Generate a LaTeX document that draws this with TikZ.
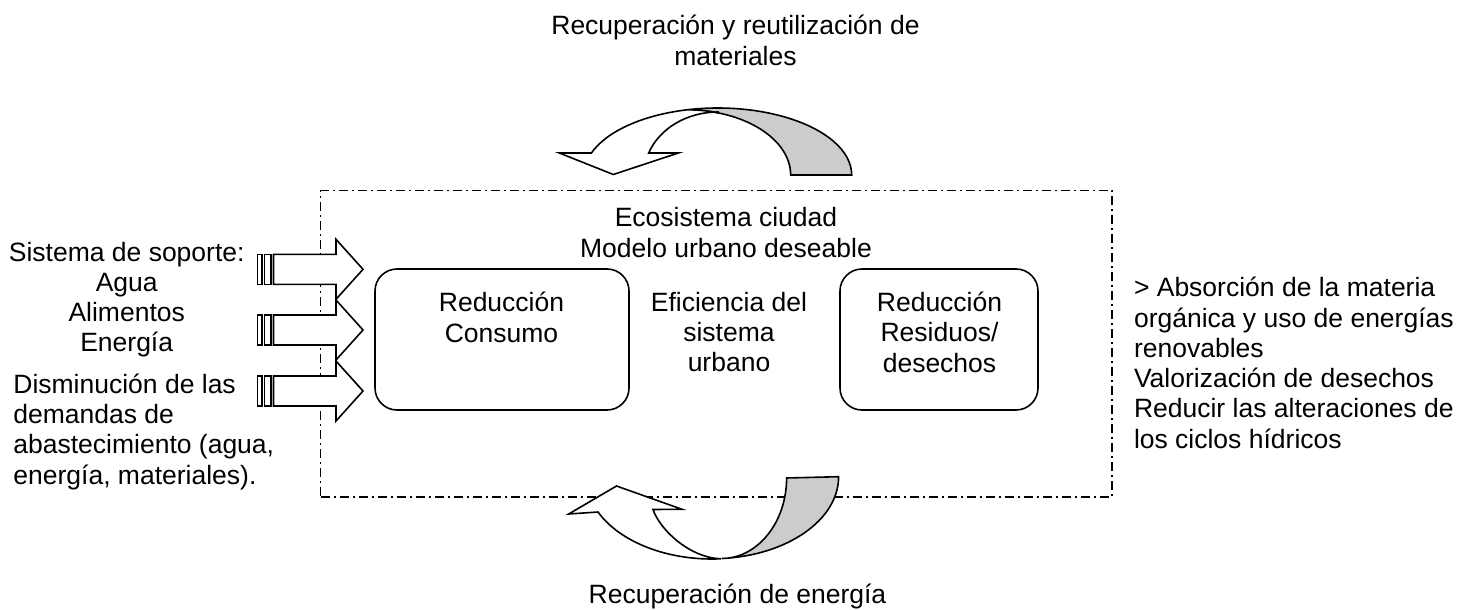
\documentclass[tikz,border=0pt]{standalone}
\usepackage{fontspec}
\setmainfont{Liberation Sans}
\newcommand{\mlines}[2]{\begin{tabular}[t]{@{}#1@{}}#2\end{tabular}}
\definecolor{shade}{RGB}{204,204,204}
\begin{document}
\begin{tikzpicture}[x=1pt,y=-1pt,
  txt/.style={inner sep=0pt, outer sep=0pt, font=\fontsize{26.5}{30.3}\selectfont, anchor=base},
  txtl/.style={txt, anchor=base west},
  bline/.style={line width=1.6pt, draw=black, line join=miter},
  rbox/.style={draw, line width=1.6pt, rounded corners=22pt, inner sep=0pt},
  dashdot/.style={draw, line width=1.5pt, dash pattern=on 9pt off 4pt on 2pt off 4pt, inner sep=0pt}]
\useasboundingbox (0,0) rectangle (1469,610);
\fill[white] (0,0) rectangle (1469,610);

% dash-dot frame
\node[dashdot, minimum width=791.3pt, minimum height=306.3pt] (eco) at (716.35,343.85) {};

% rounded boxes
\node[rbox, minimum width=254pt, minimum height=141pt] (consumo) at (502,339.5) {};
\node[rbox, minimum width=198pt, minimum height=141pt] (residuos) at (939,339.5) {};

% texts
\node[txt] (toplabel) at (735.5,35) {\mlines{c}{Recuperación y reutilización de\\materiales}};
\node[txt] (ecotxt) at (726,226.7) {\mlines{c}{Ecosistema ciudad\\Modelo urbano deseable}};
\node[txt] (consumotxt) at (501.5,311.7) {\mlines{c}{Reducción\\Consumo}};
\node[txt] (efitxt) at (729,311) {\mlines{c}{Eficiencia del\\sistema\\urbano}};
\node[txt] (residuostxt) at (939.5,311.5) {\mlines{c}{Reducción\\Residuos/\\desechos}};
\node[txt] (soporte) at (126.7,261) {\mlines{c}{Sistema de soporte:\\Agua\\Alimentos\\Energía}};
\node[txtl] (demandas) at (13.4,393.3) {\mlines{l}{Disminución de las\\demandas de\\abastecimiento (agua,\\energía, materiales).}};
\node[txtl] (absorcion) at (1134,296.7) {\mlines{l}{> Absorción de la materia\\orgánica y uso de energías\\renovables\\Valorización de desechos\\Reducir las alteraciones de\\los ciclos hídricos}};
\node[txt] (bottomlabel) at (737.5,603) {Recuperación de energía};

% striped input arrows
\foreach \cy in {269.3,330,391}{
  \draw[bline, fill=white] (273.5,\cy-15) -- (336,\cy-15) -- (336,\cy-30) -- (363,\cy)
     -- (336,\cy+30) -- (336,\cy+15) -- (273.5,\cy+15) -- cycle;
  \draw[line width=1.3pt, fill=white] (257.3,\cy-15) rectangle (262,\cy+15);
  \draw[line width=1.3pt, fill=white] (264.5,\cy-15) rectangle (271,\cy+15);
}

% top curved arrow (materials)
\draw[bline, fill=shade] (851.7,175) arc[start angle=0, end angle=103.4, x radius=134pt, y radius=67pt]
   arc[start angle=90, end angle=0, x radius=104pt, y radius=65.2pt] -- cycle;
\draw[bline, fill=white] (591.45,152.96) arc[start angle=160.8, end angle=103.4, x radius=134pt, y radius=67pt]
   arc[start angle=90, end angle=72.7, x radius=104pt, y radius=65.2pt] -- (718,112)
   arc[start angle=90, end angle=159.6, x radius=74pt, y radius=63pt]
   -- (678.3,153) -- (613.3,174.5) -- (559.3,153) -- cycle;

% bottom curved arrow (energy)
\draw[bline, fill=shade] (838.6,476.7) arc[start angle=0, end angle=-85.9, x radius=126pt, y radius=82pt]
   arc[start angle=-90, end angle=0, x radius=65pt, y radius=80.5pt] -- cycle;
\draw[bline, fill=white] (598,512) arc[start angle=-154.73, end angle=-85.9, x radius=126pt, y radius=82pt]
   .. controls (690,558) and (660,530) .. (653,509.5)
   -- (682,509.3) -- (616.5,486) -- (568.7,514) -- cycle;
\end{tikzpicture}
\end{document}
